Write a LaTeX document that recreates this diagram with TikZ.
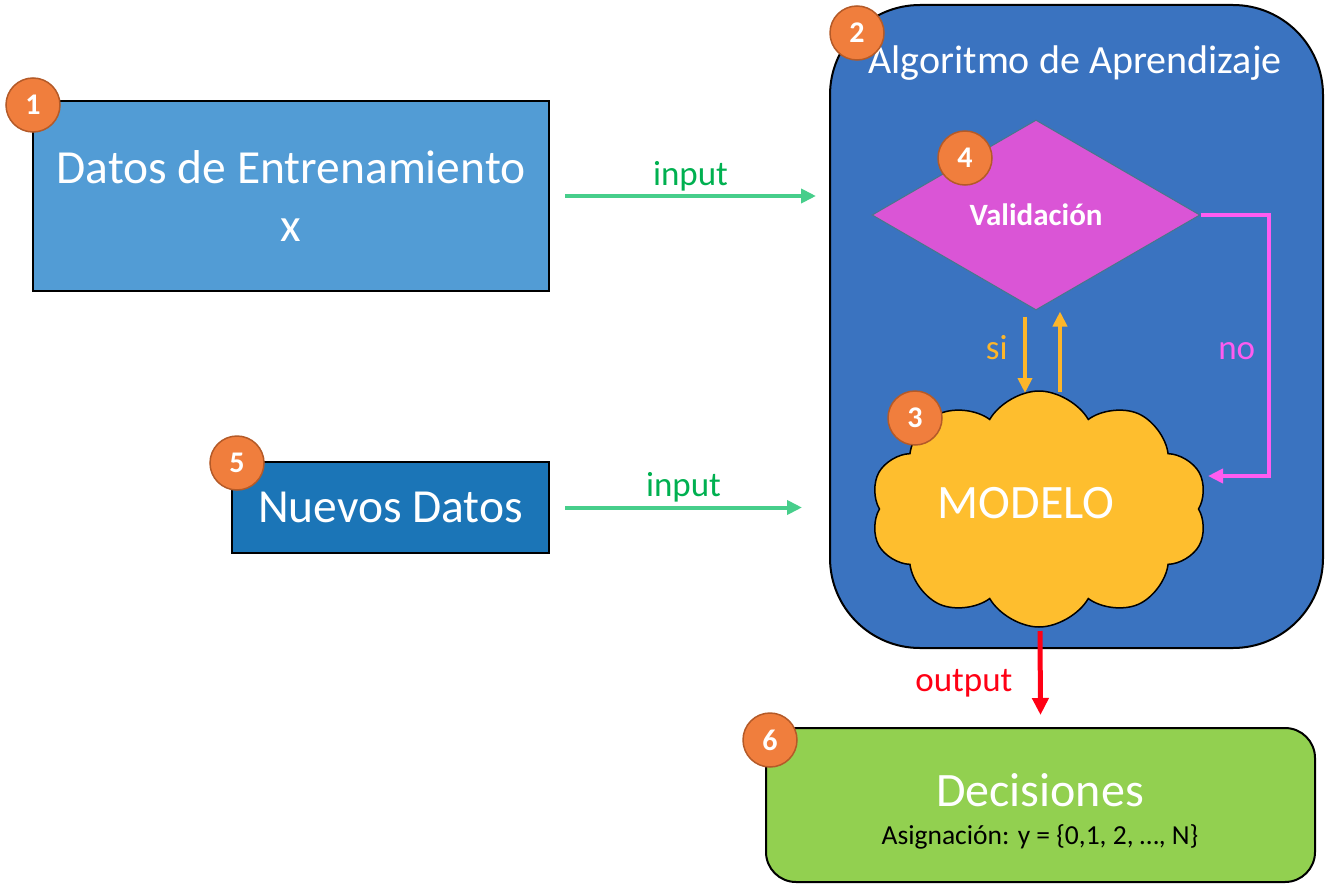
\documentclass[tikz,border=0pt]{standalone}
\usepackage{fontspec}
\setmainfont{Carlito}
\usetikzlibrary{arrows.meta}
\usetikzlibrary{positioning}
\usetikzlibrary{shapes.geometric}
\usetikzlibrary{shapes.symbols}
\definecolor{datosblue}{RGB}{82,156,213}
\definecolor{nuevosblue}{RGB}{27,117,183}
\definecolor{algoblue}{RGB}{58,115,192}
\definecolor{valmagenta}{RGB}{218,85,214}
\definecolor{valedge}{RGB}{70,120,140}
\definecolor{nopink}{RGB}{255,92,240}
\definecolor{siorange}{RGB}{253,182,42}
\definecolor{modeloyellow}{RGB}{254,190,46}
\definecolor{inputline}{RGB}{71,206,139}
\definecolor{inputtext}{RGB}{0,176,80}
\definecolor{outputred}{RGB}{255,0,20}
\definecolor{decgreen}{RGB}{146,208,80}
\definecolor{badgeorange}{RGB}{240,126,61}
\definecolor{badgeedge}{RGB}{180,90,40}
\newcommand{\sz}[2]{\fontsize{#1}{#2}\selectfont}
\tikzset{badge/.style = {circle, fill=badgeorange, draw=badgeedge, line width=1.5pt,
                         minimum size=54pt, inner sep=0pt, text=white, font=\bfseries\sz{30}{34}},
         databox/.style = {draw, line width=2pt, text=white, align=center, font=\sz{47.5}{58}},
         flowlabel/.style = {font=\sz{35}{40}},
         flow/.style = {line width=4pt, -{Triangle[length=15pt,width=14pt]}}}

\begin{document}
\begin{tikzpicture}[x=1pt,y=-1pt]
      \useasboundingbox (0,0) rectangle (1327,888);

      % entradas
      \node [databox, fill=datosblue, minimum width=516pt, minimum height=190pt] (datos) at (291,196) {Datos de Entrenamiento\\x};
      \node [databox, fill=nuevosblue, minimum width=317pt, minimum height=91pt] (nuevos) at (390.5,507.5) {Nuevos Datos};

      % algoritmo
      \node [draw, line width=2pt, fill=algoblue, rounded corners=90pt, minimum width=493pt, minimum height=643pt] (algoritmo) at (1076.5,326.5) {};
      \node [text=white, font=\sz{40}{48}] (titulo) at (1075,63) {Algoritmo de Aprendizaje};
      \node [diamond, fill=valmagenta, draw=valedge, line width=1pt, inner sep=0pt, aspect=1.73,
             minimum width=328pt, minimum height=190pt, text=white, font=\bfseries\sz{31}{36}] (validacion) at (1036,215) {Validación};
      \node [cloud, cloud puffs=10, cloud puff arc=120, aspect=1.45, draw, line width=1.5pt, fill=modeloyellow,
             minimum width=337pt, minimum height=236pt] (modelo) at (1039,509) {};
      \node [text=white, font=\sz{48}{56}] (modelotexto) at (1026,503) {MODELO};

      % salida
      \node [draw, line width=2pt, fill=decgreen, rounded corners=30pt, minimum width=549pt, minimum height=154pt] (decisiones) at (1040.5,805) {};
      \node [text=white, font=\sz{48}{56}] (dectitulo) at (1040,790) {Decisiones};
      \node [font=\sz{27.5}{32}] (asignacion) at (1040,837) {Asignación: y = \{0,1, 2, …, N\}};

      % conectores
      \coordinate (in1) at (816,196);
      \coordinate (in2) at (802,507.5);
      \coordinate (noend) at (1208,476);
      \draw [flow, inputline] ([xshift=15pt]datos.east) -- (in1) node [midway, above=0pt, text=inputtext, flowlabel] {input};
      \draw [flow, inputline] ([xshift=15pt]nuevos.east) -- (in2) node [midway, above=0pt, text=inputtext, flowlabel] {input};
      \draw [flow, siorange] ([xshift=-11pt,yshift=-6pt]validacion.south) -- ([xshift=-14pt,yshift=116pt]modelo.center)
            node [pos=0.41, left=12pt, flowlabel] {si};
      \draw [flow, siorange] ([xshift=21pt,yshift=117pt]modelo.center) -- ([xshift=24pt,yshift=-1pt]validacion.south);
      \draw [flow, nopink] (validacion.east) -- ++(68,0) |- (noend) node [pos=0.26, left=8pt, flowlabel] {no};
      \draw [line width=5pt, outputred, -{Triangle[length=17pt,width=16pt]}] ([xshift=1pt,yshift=-122pt]modelo.center) -- ([yshift=12pt]decisiones.north)
            node [pos=0.62, left=22pt, flowlabel] {output};

      % numeros
      \node [badge] (b1) at (33,105) {1};
      \node [badge] (b2) at (857,33) {2};
      \node [badge] (b3) at (915,418) {3};
      \node [badge] (b4) at (965,158) {4};
      \node [badge] (b5) at (237,463) {5};
      \node [badge] (b6) at (770,740) {6};
\end{tikzpicture}
\end{document}
